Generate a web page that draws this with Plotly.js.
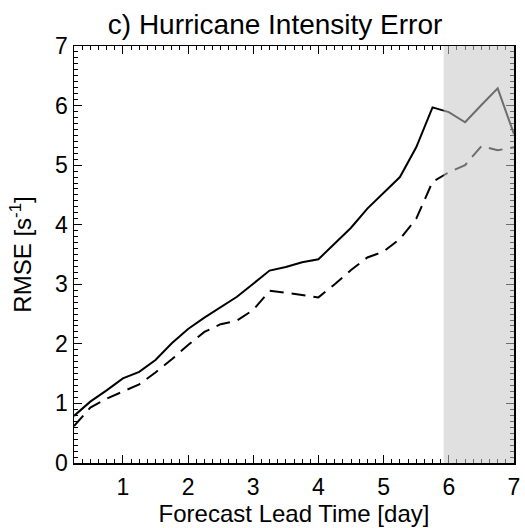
<!DOCTYPE html>
<html>
<head>
<meta charset="utf-8">
<script src="https://cdn.plot.ly/plotly-3.0.1.min.js"></script>
<style>html,body{margin:0;padding:0;background:#fff;}#chart{width:525px;height:528px;}</style>
</head>
<body>
<div id="chart"></div>
<script>
const leadDays = [0.25,0.5,0.75,1.0,1.25,1.5,1.75,2.0,2.25,2.5,2.75,3.0,3.25,3.5,3.75,4.0,4.25,4.5,4.75,5.0,5.25,5.5,5.75,6.0,6.25,6.5,6.75,7.0];
const rmseSolid = [0.79,1.03,1.22,1.42,1.53,1.73,2.01,2.25,2.44,2.62,2.79,3.01,3.23,3.29,3.37,3.42,3.69,3.95,4.27,4.53,4.80,5.30,5.97,5.89,5.72,6.01,6.29,5.52];
const rmseDashed = [0.62,0.93,1.08,1.20,1.32,1.52,1.74,1.98,2.20,2.33,2.39,2.57,2.89,2.86,2.82,2.78,3.00,3.24,3.45,3.55,3.76,4.10,4.72,4.88,5.00,5.32,5.25,5.30];
const xTickVals = [1,2,3,4,5,6,7];
const yTickVals = [0,1,2,3,4,5,6,7];
const shadeStart = 5.92;
const shadeEnd = 7.0;

const font = "Liberation Sans, Arial, Helvetica, sans-serif";

const traces = [
  {x: leadDays, y: rmseSolid, mode: 'lines', line: {color: '#000', width: 2}, hoverinfo: 'skip'},
  {x: leadDays, y: rmseDashed, mode: 'lines', line: {color: '#000', width: 2, dash: '14px,8px'}, hoverinfo: 'skip'}
];

const axisCommon = {
  showgrid: false, zeroline: false, showline: true, linecolor: '#000', linewidth: 1.5,
  mirror: 'allticks', ticks: 'inside', ticklen: 8, tickwidth: 1, tickcolor: '#000',
  tickfont: {family: font, size: 23, color: '#000'}
};

const layout = {
  width: 525, height: 528,
  margin: {l: 74, r: 11, t: 46, b: 65},
  paper_bgcolor: '#fff', plot_bgcolor: '#fff',
  showlegend: false,
  title: {text: 'c) Hurricane Intensity Error', font: {family: font, size: 28, color: '#000'},
          x: 0.457, xref: 'paper', xanchor: 'center', y: 0.955, yref: 'container', yanchor: 'middle'},
  xaxis: Object.assign({}, axisCommon, {
    range: [0.25, 7], tickvals: xTickVals, ticktext: xTickVals.map(String),
    ticklabelstandoff: 3,
    minor: {dtick: 0.125, tick0: 0, ticks: 'inside', ticklen: 4, tickcolor: '#000', tickwidth: 1},
    title: {text: 'Forecast Lead Time [day]', font: {family: font, size: 24, color: '#000'}, standoff: 0}
  }),
  yaxis: Object.assign({}, axisCommon, {
    range: [0, 7], tickvals: yTickVals, ticktext: yTickVals.map(String),
    minor: {dtick: 0.1, tick0: 0, ticks: 'inside', ticklen: 4, tickcolor: '#000', tickwidth: 1},
    title: {text: 'RMSE [s<sup>-1</sup>]', font: {family: font, size: 24, color: '#000'}, standoff: 16}
  }),
  shapes: [
    {type: 'rect', xref: 'x', yref: 'paper', x0: shadeStart, x1: shadeEnd, y0: 0, y1: 1,
     fillcolor: 'rgba(199,199,199,0.55)', line: {width: 0}, layer: 'above'}
  ]
};

Plotly.newPlot('chart', traces, layout, {staticPlot: true, displayModeBar: false});
</script>
</body>
</html>
